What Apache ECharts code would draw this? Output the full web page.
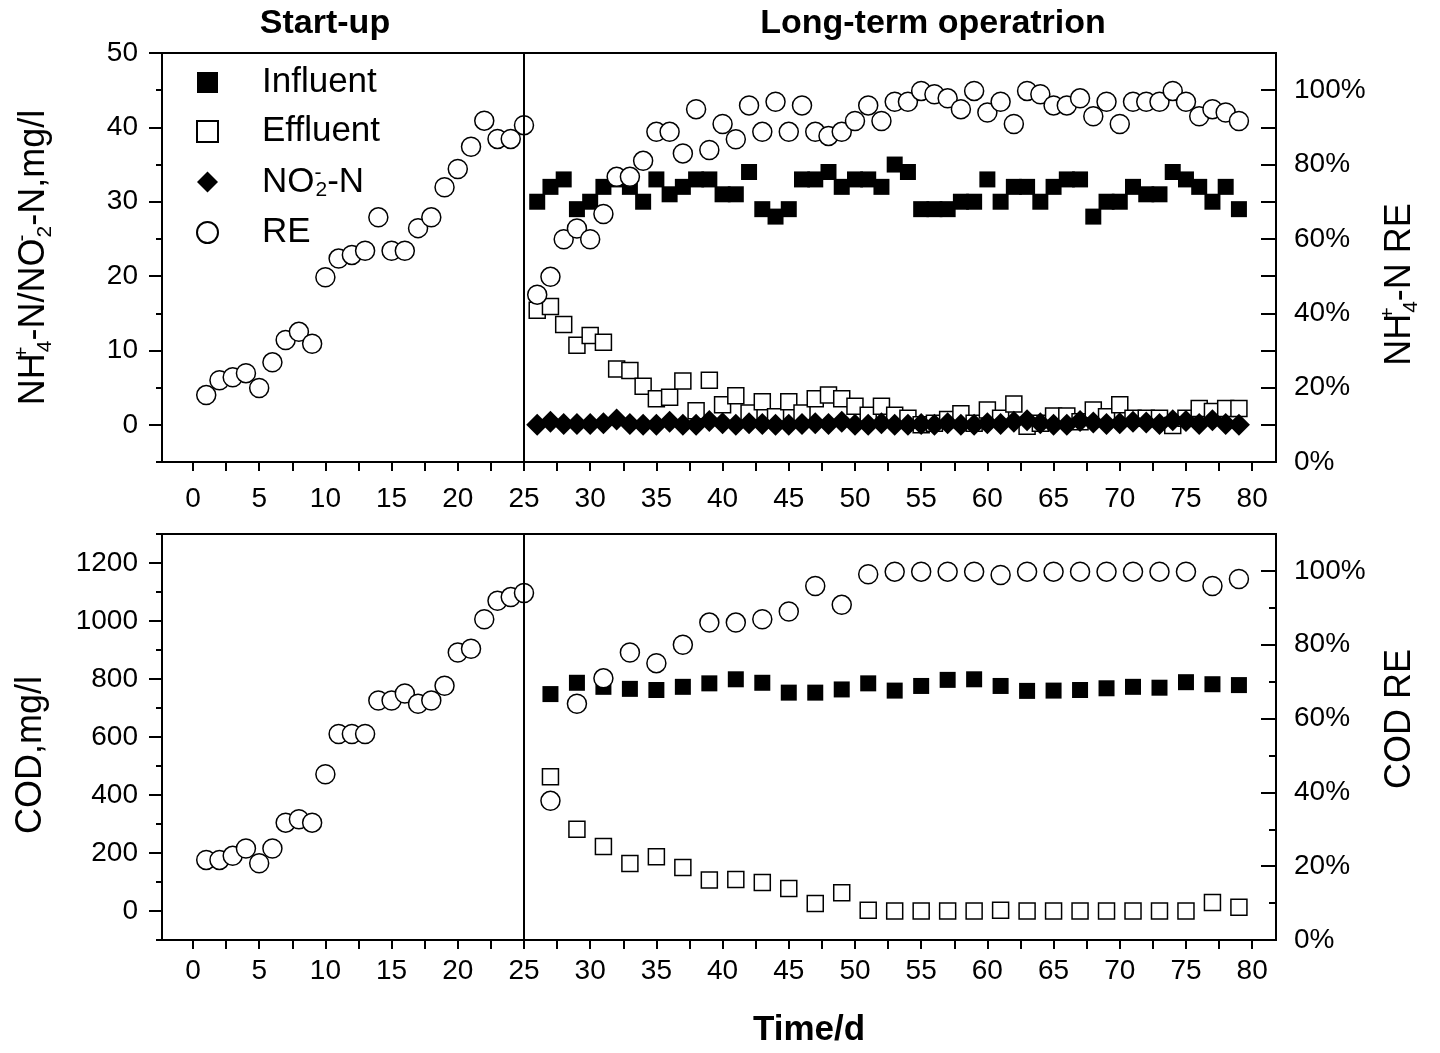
<!DOCTYPE html>
<html><head><meta charset="utf-8">
<script src="https://cdn.jsdelivr.net/npm/echarts@6/dist/echarts.min.js"></script>
<style>html,body{margin:0;padding:0;background:#fff}#c{width:1440px;height:1053px}</style>
</head><body><div id="c"></div>
<script>
// ---- Data ----
const startDays = [1,2,3,4,5,6,7,8,9,10,11,12,13,14,15,16,17,18,19,20,21,22,23,24,25];
const longDays = [26,27,28,29,30,31,32,33,34,35,36,37,38,39,40,41,42,43,44,45,46,47,48,49,50,51,52,53,54,55,56,57,58,59,60,61,62,63,64,65,66,67,68,69,70,71,72,73,74,75,76,77,78,79];
const codDays = [27,29,31,33,35,37,39,41,43,45,47,49,51,53,55,57,59,61,63,65,67,69,71,73,75,77,79];

// NH4+-N RE (%), start-up and long-term
const reNH4Start = [18,22,22.8,23.9,19.9,26.8,32.8,35,31.8,49.7,54.7,55.7,56.8,65.8,56.8,56.8,62.9,65.8,73.9,78.8,84.8,91.8,86.9,86.9,90.6];
const reNH4Long = [45,49.8,59.9,62.8,59.9,66.7,76.7,76.7,81,88.8,88.8,83,94.9,83.9,90.9,86.8,95.9,88.8,96.9,88.8,95.9,88.8,87.7,88.8,91.7,95.9,91.7,96.9,96.9,99.8,98.9,97.8,94.9,99.8,94,96.9,90.9,99.8,98.9,95.9,95.9,97.8,93,96.9,90.9,96.9,96.9,96.9,99.8,96.9,93,94.9,94,91.7];
// NH4+-N (mg/l)
const nh4Influent = [30,32,33,29,30,32,33,32,30,33,31,32,33,33,31,31,34,29,28,29,33,33,34,32,33,33,32,35,34,29,29,29,30,30,33,30,32,32,30,32,33,33,28,30,30,32,31,31,34,33,32,30,32,29];
const nh4Effluent = [15.4,15.9,13.5,10.7,12,11.1,7.5,7.3,5.2,3.5,3.7,5.9,1.9,6.0,2.7,3.9,1.6,3.1,1.1,3.1,1.6,3.5,4.0,3.5,2.5,1.3,2.5,1.3,0.9,0,0.2,0.7,1.5,0.2,2.0,0.9,2.8,-0.2,0.2,1.2,1.2,0.4,2.0,1.1,2.7,0.9,0.9,0.9,-0.1,0.9,2.2,1.8,2.2,2.2];
const no2N = [0,0.4,0.1,0.1,0.1,0.2,0.7,0.1,0,0,0.4,0,0,0.5,0.2,0,0.2,0.1,0,0,0.1,0.2,0.1,0.4,0,0,0.2,0,0,0.1,0,0.2,0,0,0.2,0.1,0.4,0.6,0.2,0,0,0.5,0.3,0.1,0.2,0.4,0.3,0.1,0.6,0.5,0.1,0.6,0.1,0];

// COD RE (%)
const reCODStart = [21.7,21.7,22.8,24.8,20.8,24.8,31.8,32.7,31.8,44.9,55.8,55.8,55.8,64.9,64.9,66.8,64.0,64.9,68.9,77.9,78.9,86.9,91.9,92.9,94.0];
const reCODLong = [37.7,64.0,70.9,77.9,75.0,80,86.0,86.0,86.9,89,95.9,90.8,99.1,99.8,99.8,99.8,99.8,98.9,99.8,99.8,99.8,99.8,99.8,99.8,99.8,95.9,97.8];
// COD (mg/l)
const codInfluent = [748,787,773,766,762,773,785,799,787,753,753,764,785,760,776,797,799,776,759,760,762,768,773,770,789,782,779];
const codEffluent = [463,282,222,164,187,150,107,109,98,78,26,63,3,0,0,0,0,3,0,0,0,0,0,0,0,29,13];

// Tick values
const xTicks = [0,2.5,5,7.5,10,12.5,15,17.5,20,22.5,25,27.5,30,32.5,35,37.5,40,42.5,45,47.5,50,52.5,55,57.5,60,62.5,65,67.5,70,72.5,75,77.5,80];
const xLabels = [0,5,10,15,20,25,30,35,40,45,50,55,60,65,70,75,80];
const nh4Major = [0,10,20,30,40,50];
const nh4Minor = [-5,5,15,25,35,45];
const codMajor = [0,200,400,600,800,1000,1200];
const codMinor = [-100,100,300,500,700,900,1100,1300];
const reTicksAll = [0,10,20,30,40,50,60,70,80,90,100,110];
const reLabels = [0,20,40,60,80,100];
const reMinor = [10,30,50,70,90];

// ---- Build ----
const zip = (xs, ys) => xs.map((x, i) => [x, ys[i]]);
const FONT = "'Liberation Sans', Arial, sans-serif";
const black = '#000';

function xAxisDef(gi, margin) {
  return {
    type: 'value', gridIndex: gi, min: -2.34, max: 81.8,
    axisLine: { show: true, onZero: false, lineStyle: { color: black, width: 2 } },
    axisTick: { show: true, inside: false, length: 9, customValues: xTicks, lineStyle: { color: black, width: 2 } },
    axisLabel: { show: true, customValues: xLabels, color: black, fontSize: 28, fontFamily: FONT, margin: margin },
    splitLine: { show: false }
  };
}
const nameRich = {
  t: { fontSize: 36, fontFamily: FONT, color: black, lineHeight: 44 },
  sp: { fontSize: 21, fontFamily: FONT, color: black, lineHeight: 20, verticalAlign: 'top', width: 1 },
  sb: { fontSize: 21, fontFamily: FONT, color: black, lineHeight: 20, verticalAlign: 'bottom' }
};
function yMain(gi, pos, min, max, ticks, labels, tickLen, inside, fmt, name, nameGap, margin, namePad) {
  return {
    type: 'value', gridIndex: gi, position: pos, min: min, max: max,
    name: name, nameLocation: 'middle', nameGap: nameGap, nameRotate: 90,
    nameTextStyle: { color: black, fontFamily: FONT, fontSize: 36, rich: nameRich, padding: namePad },
    axisLine: { show: true, onZero: false, lineStyle: { color: black, width: 2 } },
    axisTick: { show: true, inside: inside, length: tickLen, customValues: ticks, lineStyle: { color: black, width: 2 } },
    axisLabel: { show: true, customValues: labels, color: black, fontSize: 28, fontFamily: FONT, margin: margin, formatter: fmt },
    splitLine: { show: false }
  };
}
function yMinor(gi, pos, min, max, ticks, len, inside) {
  return {
    type: 'value', gridIndex: gi, position: pos, min: min, max: max,
    axisLine: { show: false, onZero: false },
    axisTick: { show: true, inside: inside, length: len, customValues: ticks, lineStyle: { color: black, width: 2 } },
    axisLabel: { show: false },
    splitLine: { show: false }
  };
}
const pct = v => v + '%';
const plain = v => String(v);

const vline = {
  silent: true, symbol: ['none', 'none'], label: { show: false },
  lineStyle: { color: black, width: 2, type: 'solid' },
  data: [{ xAxis: 25 }]
};
const hollow = { color: '#fff', borderColor: black, borderWidth: 1.5, opacity: 1 };
const solid = { color: black, opacity: 1 };

const option = {
  animation: false,
  backgroundColor: '#fff',
  grid: [
    { left: 162, top: 53, width: 1114, height: 409, show: true, borderColor: black, borderWidth: 2, backgroundColor: 'transparent' },
    { left: 162, top: 534, width: 1114, height: 406, show: true, borderColor: black, borderWidth: 2, backgroundColor: 'transparent' }
  ],
  xAxis: [xAxisDef(0, 23), xAxisDef(1, 17)],
  yAxis: [
    yMain(0, 'left', -5, 50, nh4Major, nh4Major, 13, false, plain,
      '{t|NH}{sp|+}{sb|4}{t|-N/NO}{sp|-}{sb|2}{t|-N,mg/l}', 106, 24, [0, 0, 0, 0]),
    yMain(0, 'right', 0, 110, reTicksAll, reLabels, 15, true, pct,
      '{t|NH}{sp|+}{sb|4}{t|-N RE}', 102, 18, [0, 54, 0, 0]),
    yMain(1, 'left', -100, 1300, codMajor, codMajor, 13, false, plain,
      '{t|COD,mg/l}', 109, 24, [0, 36, 0, 0]),
    yMain(1, 'right', 0, 110, reLabels, reLabels, 15, true, pct,
      '{t|COD RE}', 102, 18, [0, 0, 0, 36]),
    yMinor(0, 'left', -5, 50, nh4Minor, 6, false),
    yMinor(1, 'left', -100, 1300, codMinor, 6, false),
    yMinor(1, 'right', 0, 110, reMinor, 7, true)
  ],
  legend: {
    orient: 'vertical', left: 196, top: 65, padding: 0, itemWidth: 21, itemHeight: 21, itemGap: 14,
    selectedMode: false,
    data: ['Influent', 'Effluent', 'NO2-N', 'RE'],
    formatter: function (name) {
      if (name === 'NO2-N') return '{g| }{t|NO}{sp|-}{sb|2}{t|-N}';
      return '{g| }{t|' + name + '}';
    },
    textStyle: {
      color: black, fontFamily: FONT, fontSize: 35,
      rich: {
        g: { width: 39, fontSize: 35, lineHeight: 38 },
        t: { fontSize: 35, fontFamily: FONT, color: black, lineHeight: 38 },
        sp: { fontSize: 21, fontFamily: FONT, color: black, lineHeight: 20, verticalAlign: 'top', width: 1 },
        sb: { fontSize: 21, fontFamily: FONT, color: black, lineHeight: 20, verticalAlign: 'bottom' }
      }
    }
  },
  graphic: [
    { type: 'text', x: 325, y: 24, style: { text: 'Start-up', font: 'bold 34px ' + FONT, fill: black, textAlign: 'center', textVerticalAlign: 'middle' } },
    { type: 'text', x: 933, y: 24, style: { text: 'Long-term operatrion', font: 'bold 34px ' + FONT, fill: black, textAlign: 'center', textVerticalAlign: 'middle' } },
    { type: 'text', x: 809, y: 1030, style: { text: 'Time/d', font: 'bold 35px ' + FONT, fill: black, textAlign: 'center', textVerticalAlign: 'middle' } }
  ],
  series: [
    { name: 'Influent', type: 'scatter', xAxisIndex: 0, yAxisIndex: 0, symbol: 'rect', symbolSize: 16,
      itemStyle: solid, data: zip(longDays, nh4Influent), markLine: vline },
    { name: 'Effluent', type: 'scatter', xAxisIndex: 0, yAxisIndex: 0, symbol: 'rect', symbolSize: 16,
      itemStyle: hollow, data: zip(longDays, nh4Effluent) },
    { name: 'NO2-N', type: 'scatter', xAxisIndex: 0, yAxisIndex: 0, symbol: 'diamond', symbolSize: 22,
      itemStyle: solid, data: zip(longDays, no2N) },
    { name: 'RE', type: 'scatter', xAxisIndex: 0, yAxisIndex: 1, symbol: 'circle', symbolSize: 19,
      itemStyle: hollow, data: zip(startDays, reNH4Start).concat(zip(longDays, reNH4Long)) },
    { name: 'COD Influent', type: 'scatter', xAxisIndex: 1, yAxisIndex: 2, symbol: 'rect', symbolSize: 16,
      itemStyle: solid, data: zip(codDays, codInfluent), markLine: vline },
    { name: 'COD Effluent', type: 'scatter', xAxisIndex: 1, yAxisIndex: 2, symbol: 'rect', symbolSize: 16,
      itemStyle: hollow, data: zip(codDays, codEffluent) },
    { name: 'COD RE', type: 'scatter', xAxisIndex: 1, yAxisIndex: 3, symbol: 'circle', symbolSize: 19,
      itemStyle: hollow, data: zip(startDays, reCODStart).concat(zip(codDays, reCODLong)) }
  ]
};
const chart = echarts.init(document.getElementById('c'), null, { renderer: 'canvas' });
chart.setOption(option);
</script>
</body></html>
